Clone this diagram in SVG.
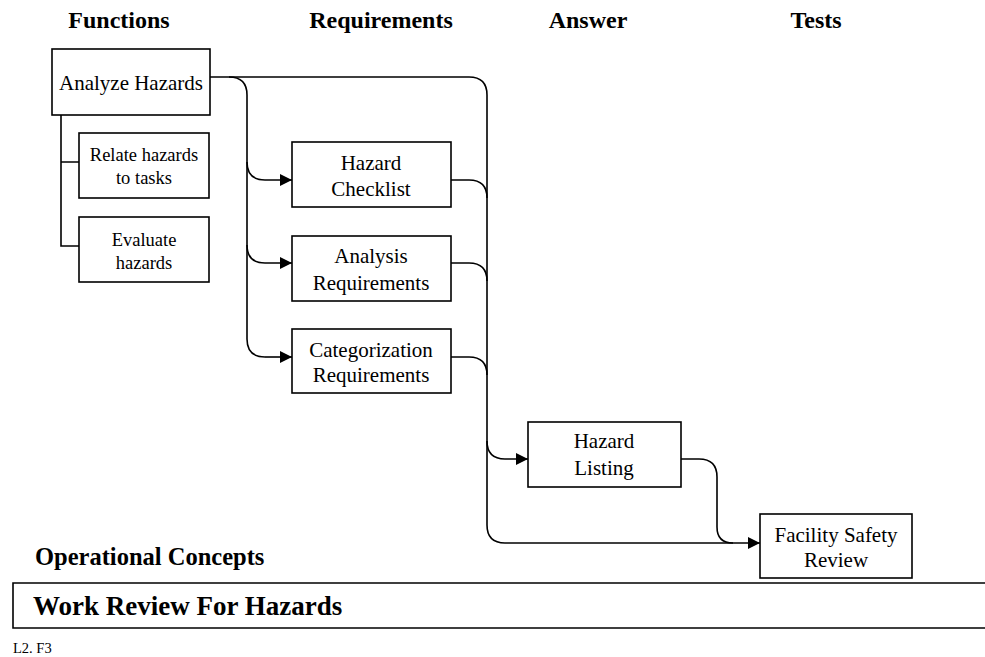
<svg xmlns="http://www.w3.org/2000/svg" width="985" height="657" viewBox="0 0 985 657">
<defs>
<marker id="arr" markerWidth="12" markerHeight="12" refX="12" refY="6" orient="auto" markerUnits="userSpaceOnUse">
<path d="M0,0 L12,6 L0,12 Z" fill="#000"/>
</marker>
<style>
.box{fill:#fff;stroke:#000;stroke-width:1.6}
.t{font-family:"Liberation Serif","Times New Roman",serif;font-size:21px;fill:#000;text-anchor:middle}
.s{font-family:"Liberation Serif","Times New Roman",serif;font-size:18.5px;fill:#000;text-anchor:middle}
.h{font-family:"Liberation Serif","Times New Roman",serif;font-size:24px;font-weight:bold;fill:#000;text-anchor:middle}
.c{fill:none;stroke:#000;stroke-width:1.6}
.ca{fill:none;stroke:#000;stroke-width:1.6;marker-end:url(#arr)}
</style>
</defs>
<rect width="985" height="657" fill="#fff"/>

<g id="headers">
<text class="h" x="119" y="28">Functions</text>
<text class="h" x="381" y="28">Requirements</text>
<text class="h" x="588" y="28">Answer</text>
<text class="h" x="816" y="28">Tests</text>
</g>

<g id="connectors">
<path class="c" d="M61,115 V246 H79 M61,162 H79"/>
<path class="c" d="M210,77 H229 Q247,77 247,95 V339 Q247,357 265,357"/>
<path class="ca" d="M265,357 H292"/>
<path class="ca" d="M247,162 Q247,180 265,180 H292"/>
<path class="ca" d="M247,245 Q247,263 265,263 H292"/>
<path class="c" d="M229,77 H469 Q487,77 487,95 V525 Q487,543 505,543"/>
<path class="ca" d="M505,543 H760"/>
<path class="c" d="M451,180 H469 Q487,180 487,198"/>
<path class="c" d="M451,263 H469 Q487,263 487,281"/>
<path class="c" d="M451,357 H469 Q487,357 487,375"/>
<path class="ca" d="M487,441 Q487,459 505,459 H528"/>
<path class="c" d="M681,459 H699 Q717,459 717,477 V527 Q717,543 733,543"/>
</g>

<g id="analyze-hazards">
<rect class="box" x="52" y="49" width="158" height="66"/>
<text class="t" x="131" y="90">Analyze Hazards</text>
</g>
<g id="relate-hazards">
<rect class="box" x="79" y="133" width="130" height="65"/>
<text class="s" x="144" y="161">Relate hazards</text>
<text class="s" x="144" y="184">to tasks</text>
</g>
<g id="evaluate-hazards">
<rect class="box" x="79" y="217" width="130" height="65"/>
<text class="s" x="144" y="246">Evaluate</text>
<text class="s" x="144" y="269">hazards</text>
</g>
<g id="hazard-checklist">
<rect class="box" x="292" y="142" width="159" height="65"/>
<text class="t" x="371" y="170">Hazard</text>
<text class="t" x="371" y="196">Checklist</text>
</g>
<g id="analysis-requirements">
<rect class="box" x="292" y="236" width="159" height="65"/>
<text class="t" x="371" y="263">Analysis</text>
<text class="t" x="371" y="290">Requirements</text>
</g>
<g id="categorization-requirements">
<rect class="box" x="292" y="329" width="159" height="64"/>
<text class="t" x="371" y="357">Categorization</text>
<text class="t" x="371" y="382">Requirements</text>
</g>
<g id="hazard-listing">
<rect class="box" x="528" y="422" width="153" height="65"/>
<text class="t" x="604" y="448">Hazard</text>
<text class="t" x="604" y="475">Listing</text>
</g>
<g id="facility-safety-review">
<rect class="box" x="760" y="514" width="152" height="64"/>
<text class="t" x="836" y="542">Facility Safety</text>
<text class="t" x="836" y="567">Review</text>
</g>

<g id="operational-concepts">
<text class="h" x="35" y="565" style="text-anchor:start;font-size:24.5px">Operational Concepts</text>
<path class="c" d="M985,583 H13 V628 H985"/>
<text class="h" x="33" y="615" style="text-anchor:start;font-size:27px">Work Review For Hazards</text>
</g>
<text x="13" y="653" style="font-family:'Liberation Serif','Times New Roman',serif;font-size:14.5px;fill:#000">L2. F3</text>
</svg>
